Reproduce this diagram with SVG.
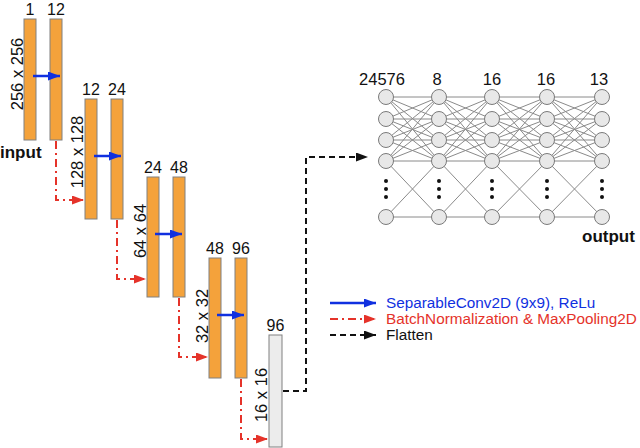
<svg xmlns="http://www.w3.org/2000/svg" width="640" height="448" viewBox="0 0 640 448">
<style>
text{font-family:"Liberation Sans",Arial,sans-serif;fill:#111}
.lab{font-size:16px;text-anchor:middle}
.nl{font-size:16.5px;text-anchor:middle}
.rot{font-size:16.5px;text-anchor:middle}
.bold{font-size:17px;font-weight:bold}
.leg{font-size:15.3px}
.bar{fill:#f4a23b;stroke:#808080;stroke-width:1}
.gbar{fill:#ececec;stroke:#808080;stroke-width:1}
.blue{stroke:#1030e0;stroke-width:2.5;fill:none}
.red{stroke:#e5332a;stroke-width:2;fill:none;stroke-dasharray:8 4 2 4}
.blk{stroke:#111;stroke-width:2;fill:none;stroke-dasharray:6 4}
.mesh{stroke:#8a8a8a;stroke-width:1;fill:none}
.node{fill:#e8e8e8;stroke:#7a7a7a;stroke-width:1}
.dot{fill:#111}
</style>
<defs>
<marker id="ab" markerUnits="userSpaceOnUse" markerWidth="13" markerHeight="10" refX="12" refY="4.5" orient="auto"><path d="M0,0L12,4.5L0,9z" fill="#1030e0"/></marker>
<marker id="ar" markerUnits="userSpaceOnUse" markerWidth="13" markerHeight="10" refX="12" refY="4.5" orient="auto"><path d="M0,0L12,4.5L0,9z" fill="#e5332a"/></marker>
<marker id="ak" markerUnits="userSpaceOnUse" markerWidth="13" markerHeight="10" refX="12" refY="4.5" orient="auto"><path d="M0,0L12,4.5L0,9z" fill="#111"/></marker>
</defs>

<g id="block1">
<rect class="bar" x="24" y="19" width="12" height="121"/>
<rect class="bar" x="50" y="19" width="12" height="121"/>
<text class="lab" x="30" y="15">1</text>
<text class="lab" x="56" y="15">12</text>
<text class="rot" transform="translate(23,74) rotate(-90)">256 x 256</text>
<text class="bold" x="0" y="158">input</text>
</g>
<g id="block2">
<rect class="bar" x="85" y="99" width="12" height="120"/>
<rect class="bar" x="111" y="99" width="12" height="120"/>
<text class="lab" x="91" y="95">12</text>
<text class="lab" x="117" y="95">24</text>
<text class="rot" transform="translate(83,152) rotate(-90)">128 x 128</text>
</g>
<g id="block3">
<rect class="bar" x="147" y="177" width="12" height="120"/>
<rect class="bar" x="173" y="177" width="12" height="120"/>
<text class="lab" x="153" y="173">24</text>
<text class="lab" x="179" y="173">48</text>
<text class="rot" transform="translate(146,231) rotate(-90)">64 x 64</text>
</g>
<g id="block4">
<rect class="bar" x="209" y="258" width="12" height="120"/>
<rect class="bar" x="235" y="258" width="12" height="120"/>
<text class="lab" x="215" y="254">48</text>
<text class="lab" x="241" y="254">96</text>
<text class="rot" transform="translate(208,316) rotate(-90)">32 x 32</text>
</g>
<g id="block5">
<rect class="gbar" x="269" y="335" width="13" height="112"/>
<text class="lab" x="275.5" y="331">96</text>
<text class="rot" transform="translate(267,395) rotate(-90)">16 x 16</text>
</g>

<g id="connectors">
<line class="blue" x1="33" y1="76" x2="60" y2="76" marker-end="url(#ab)"/>
<line class="blue" x1="94" y1="156" x2="121" y2="156" marker-end="url(#ab)"/>
<line class="blue" x1="155" y1="234" x2="182" y2="234" marker-end="url(#ab)"/>
<line class="blue" x1="217" y1="315" x2="244" y2="315" marker-end="url(#ab)"/>
<path class="red" d="M56 141V200H84" marker-end="url(#ar)"/>
<path class="red" d="M117 220V279H146" marker-end="url(#ar)"/>
<path class="red" d="M179 298V357H208" marker-end="url(#ar)"/>
<path class="red" d="M241 379V439H268" marker-end="url(#ar)"/>
<path class="blk" d="M283 391H306V157H368" marker-end="url(#ak)"/>
</g>

<g id="network">
<path class="mesh" d="M386 97L439 97M386 97L439 119M386 97L439 140M386 97L439 161M386 119L439 97M386 119L439 119M386 119L439 140M386 119L439 161M386 140L439 97M386 140L439 119M386 140L439 140M386 140L439 161M386 161L439 97M386 161L439 119M386 161L439 140M386 161L439 161M386 161L439 217M386 217L439 161M386 217L439 217"/>
<path class="mesh" d="M439 97L492 97M439 97L492 119M439 97L492 140M439 97L492 161M439 119L492 97M439 119L492 119M439 119L492 140M439 119L492 161M439 140L492 97M439 140L492 119M439 140L492 140M439 140L492 161M439 161L492 97M439 161L492 119M439 161L492 140M439 161L492 161M439 161L492 217M439 217L492 161M439 217L492 217"/>
<path class="mesh" d="M492 97L547 97M492 97L547 119M492 97L547 140M492 97L547 161M492 119L547 97M492 119L547 119M492 119L547 140M492 119L547 161M492 140L547 97M492 140L547 119M492 140L547 140M492 140L547 161M492 161L547 97M492 161L547 119M492 161L547 140M492 161L547 161M492 161L547 217M492 217L547 161M492 217L547 217"/>
<path class="mesh" d="M547 97L602 97M547 97L602 119M547 97L602 140M547 97L602 161M547 119L602 97M547 119L602 119M547 119L602 140M547 119L602 161M547 140L602 97M547 140L602 119M547 140L602 140M547 140L602 161M547 161L602 97M547 161L602 119M547 161L602 140M547 161L602 161M547 161L602 217M547 217L602 161M547 217L602 217"/>
<g id="layer1">
<circle class="node" cx="386" cy="97" r="7.5"/><circle class="node" cx="386" cy="119" r="7.5"/><circle class="node" cx="386" cy="140" r="7.5"/><circle class="node" cx="386" cy="161" r="7.5"/><circle class="node" cx="386" cy="217" r="7.5"/>
<circle class="dot" cx="386" cy="181" r="2"/><circle class="dot" cx="386" cy="189" r="2"/><circle class="dot" cx="386" cy="197" r="2"/>
<text class="nl" x="382" y="85">24576</text>
</g>
<g id="layer2">
<circle class="node" cx="439" cy="97" r="7.5"/><circle class="node" cx="439" cy="119" r="7.5"/><circle class="node" cx="439" cy="140" r="7.5"/><circle class="node" cx="439" cy="161" r="7.5"/><circle class="node" cx="439" cy="217" r="7.5"/>
<circle class="dot" cx="439" cy="181" r="2"/><circle class="dot" cx="439" cy="189" r="2"/><circle class="dot" cx="439" cy="197" r="2"/>
<text class="nl" x="437" y="85">8</text>
</g>
<g id="layer3">
<circle class="node" cx="492" cy="97" r="7.5"/><circle class="node" cx="492" cy="119" r="7.5"/><circle class="node" cx="492" cy="140" r="7.5"/><circle class="node" cx="492" cy="161" r="7.5"/><circle class="node" cx="492" cy="217" r="7.5"/>
<circle class="dot" cx="492" cy="181" r="2"/><circle class="dot" cx="492" cy="189" r="2"/><circle class="dot" cx="492" cy="197" r="2"/>
<text class="nl" x="492" y="85">16</text>
</g>
<g id="layer4">
<circle class="node" cx="547" cy="97" r="7.5"/><circle class="node" cx="547" cy="119" r="7.5"/><circle class="node" cx="547" cy="140" r="7.5"/><circle class="node" cx="547" cy="161" r="7.5"/><circle class="node" cx="547" cy="217" r="7.5"/>
<circle class="dot" cx="547" cy="181" r="2"/><circle class="dot" cx="547" cy="189" r="2"/><circle class="dot" cx="547" cy="197" r="2"/>
<text class="nl" x="546" y="85">16</text>
</g>
<g id="layer5">
<circle class="node" cx="602" cy="97" r="7.5"/><circle class="node" cx="602" cy="119" r="7.5"/><circle class="node" cx="602" cy="140" r="7.5"/><circle class="node" cx="602" cy="161" r="7.5"/><circle class="node" cx="602" cy="217" r="7.5"/>
<circle class="dot" cx="602" cy="181" r="2"/><circle class="dot" cx="602" cy="189" r="2"/><circle class="dot" cx="602" cy="197" r="2"/>
<text class="nl" x="599" y="85">13</text>
<text class="bold" x="582" y="242">output</text>
</g>
</g>

<g id="legend">
<line class="blue" x1="330" y1="303" x2="376" y2="303" marker-end="url(#ab)"/>
<line class="red" x1="330" y1="319" x2="376" y2="319" marker-end="url(#ar)"/>
<line class="blk" x1="330" y1="335" x2="376" y2="335" marker-end="url(#ak)"/>
<text class="leg" x="386" y="308" style="fill:#1030e0">SeparableConv2D (9x9), ReLu</text>
<text class="leg" x="386" y="324" style="fill:#e5332a">BatchNormalization &amp; MaxPooling2D</text>
<text class="leg" x="386" y="340">Flatten</text>
</g>
</svg>
